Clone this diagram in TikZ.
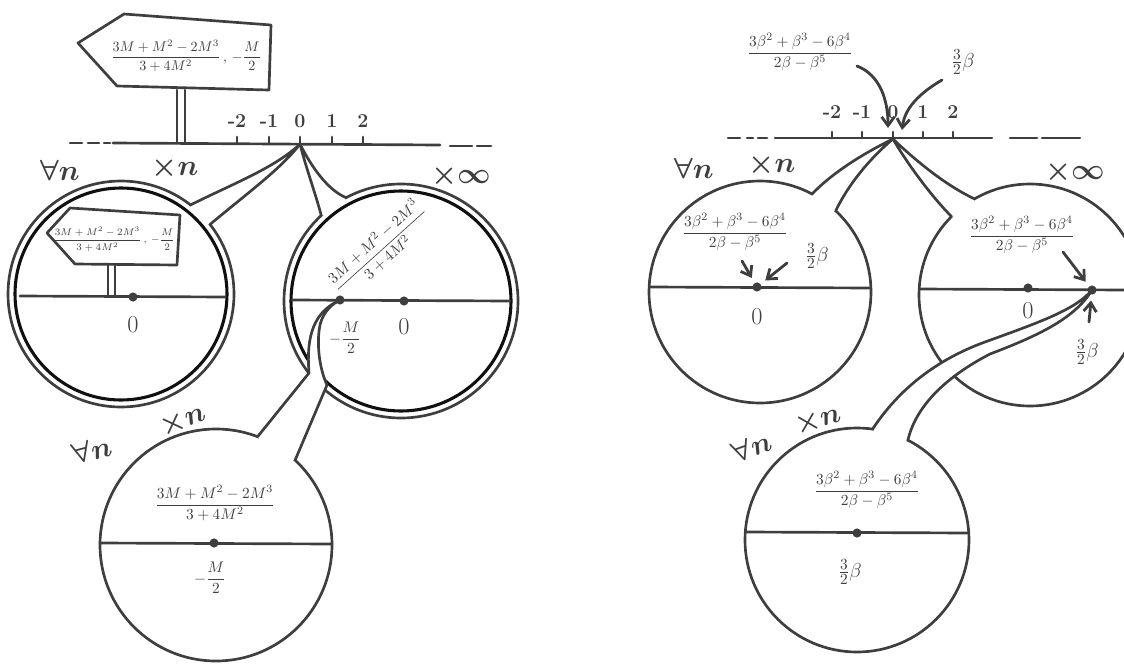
\documentclass[tikz,border=0pt]{standalone}
\usepackage{amsmath}
\usepackage{amssymb}
\usepackage{tikz}
\usetikzlibrary{
  arrows.meta,
  positioning,
  calc
}
\definecolor{InkGray}{RGB}{62,62,62}
\definecolor{RimBlack}{RGB}{16,16,16}
\tikzset{
  inkline/.style={draw=InkGray,line width=1.9pt,line cap=round,line join=round},
  rimline/.style={draw=RimBlack,line width=2.2pt},
  pointdot/.style={circle,fill=InkGray,inner sep=0pt,minimum size=6.5pt},
  ticktext/.style={text=InkGray,font=\fontsize{14}{16}\selectfont\bfseries},
  tagtext/.style={text=InkGray,font=\fontsize{22}{24}\selectfont\boldmath},
  zerotext/.style={text=InkGray,font=\fontsize{17}{19}\selectfont},
  formula/.style={text=InkGray,inner sep=1pt,font=\fontsize{11}{13}\selectfont},
  smallformula/.style={text=InkGray,inner sep=1pt,font=\fontsize{7}{8.5}\selectfont},
  halfbeta/.style={text=InkGray,inner sep=1pt,font=\fontsize{15}{17}\selectfont},
  jabarrow/.style={inkline,line width=2pt,-{Straight Barb[length=2.2mm,width=3.2mm]}}
}
\begin{document}
\begin{tikzpicture}[x=0.025cm,y=-0.025cm]
\useasboundingbox (0,0) rectangle (1124,664);
\clip (0,0) rectangle (1124,664);
% left: number line with signpost
\draw[inkline] (70,143) -- (82,143) (88,143) -- (99,143) (104,143) -- (110,143);
\draw[inkline] (113,143) -- (440,145);
\draw[inkline] (450,146) -- (472,146) (477,146) -- (491,146);
\foreach \x/\t in {237/-2,269/-1,300/0,332/1,363/2}{
  \draw[inkline] (\x,143) -- (\x,137);
  \node[ticktext] at (\x,121) {\t};
}
\coordinate (lzero) at (300,144);
\draw[inkline] (177,90) -- (177,143) (185,90) -- (185,143);
\draw[inkline,fill=white] (78,43) -- (124,14) -- (271,25) -- (269,90) -- (117,86) -- cycle;
\node[formula,font=\fontsize{10}{12}\selectfont] (lsign) at (186,56)
  {$\dfrac{3M+M^2-2M^3}{3+4M^2}\,,\,-\dfrac{M}{2}$};
\node[tagtext] (lall) at (60,170) {$\forall n$};
\node[tagtext] (ltimes) at (175,168) {$\times n$};
\node[tagtext] (linf) at (461,176) {$\times\infty$};
% left: bubbles
\coordinate (lcen) at (121,294);
\coordinate (rcen) at (401,301);
\coordinate (bcen) at (216,545);
\draw[inkline] (lcen) circle (113);
\draw[inkline] (rcen) circle (117);
\draw[inkline] (bcen) circle (116);
\coordinate (lbA) at ($(lcen)+(-52:113)$);
\coordinate (lbB) at ($(lcen)+(-38:113)$);
\fill[white] (lbA) .. controls (230,185) and (275,168) .. (lzero) .. controls (282,168) and (245,195) .. (lbB) -- ($(lcen)+(-45:100)$) -- cycle;
\draw[inkline] (lbA) .. controls (230,185) and (275,168) .. (lzero) .. controls (282,168) and (245,195) .. (lbB);
\coordinate (rbA) at ($(rcen)+(-133:117)$);
\coordinate (rbB) at ($(rcen)+(-118:117)$);
\fill[white] (rbA) .. controls (316,195) and (306,168) .. (lzero) .. controls (312,168) and (328,190) .. (rbB) -- ($(rcen)+(-125:104)$) -- cycle;
\draw[inkline] (rbA) .. controls (316,195) and (306,168) .. (lzero) .. controls (312,168) and (328,190) .. (rbB);
\draw[rimline] (lcen) circle (106);
\draw[rimline] (rcen) circle (110);
\coordinate (mpt) at (340,300);
\coordinate (bbA) at ($(bcen)+(-69:116)$);
\coordinate (bbB) at ($(bcen)+(-47:116)$);
\fill[white] (mpt) .. controls (314,312) and (306,335) .. (309,373) -- (bbA) -- ($(bcen)+(-58:104)$) -- (bbB) -- (327,385) .. controls (320,370) and (316,345) .. (320,325) .. controls (323,312) and (332,304) .. (mpt) -- cycle;
\draw[inkline] (mpt) .. controls (314,312) and (306,335) .. (309,373) -- (bbA);
\draw[inkline] (bbB) -- (327,385) .. controls (320,370) and (316,345) .. (320,325) .. controls (323,312) and (332,304) .. (mpt);
% left: bubble contents
\draw[inkline] (20,296) -- (225,297);
\draw[inkline] (108,265) -- (108,296) (115,265) -- (115,296);
\draw[inkline,fill=white] (47,233) -- (70,208) -- (180,215) -- (177,265) -- (75,264) -- cycle;
\node[smallformula] (ssign) at (114,239) {$\dfrac{3M+M^2-2M^3}{3+4M^2}\,,\,-\dfrac{M}{2}$};
\node[pointdot] (ldot) at (133,297) {};
\node[zerotext, below=2.6mm of ldot] (lnull) {$0$};
\draw[inkline] (292,300) -- (510,301);
\node[pointdot] (mdot) at (mpt) {};
\node[pointdot] (zdot) at (404,301) {};
\node[zerotext, below=2mm of zdot] (znull) {$0$};
\node[formula] (mhalf) at (345,338) {$-\dfrac{M}{2}$};
\node[formula, rotate=42] (rfrac) at (380,249) {$\dfrac{3M+M^2-2M^3}{3+4M^2}$};
\draw[inkline] (100,543) -- (332,544);
\node[pointdot] (bdot) at (214,543) {};
\node[formula] (bfrac) at (215,503) {$\dfrac{3M+M^2-2M^3}{3+4M^2}$};
\node[formula] (bhalf) at (210,578) {$-\dfrac{M}{2}$};
\node[tagtext, rotate=15] (ball) at (92,450) {$\forall n$};
\node[tagtext, rotate=20] (btimes) at (183,421) {$\times n$};
% right: number line
\draw[inkline] (728,138) -- (740,138) (747,138) -- (753,138) (758,138) -- (767,138);
\draw[inkline] (775,138) -- (992,138);
\draw[inkline] (1010,138) -- (1037,138) (1042,138) -- (1080,138);
\foreach \x/\t in {832/-2,862/-1,893/0,923/1,953/2}{
  \draw[inkline] (\x,138) -- (\x,132);
  \node[ticktext] at (\x,112) {\t};
}
\coordinate (rzero) at (893,139);
\node[formula] (tfrac) at (800,52) {$\dfrac{3\beta^2+\beta^3-6\beta^4}{2\beta-\beta^5}$};
\node[halfbeta] (thalf) at (963,62) {$\frac{3}{2}\beta$};
\coordinate (tfa) at (857,66);
\coordinate (tha) at (942,80);
\draw[jabarrow] (tfa) .. controls (880,75) and (888,100) .. (888,128);
\draw[jabarrow] (tha) .. controls (925,90) and (905,105) .. (902,130);
\node[tagtext] (rall) at (694,168) {$\forall n$};
\node[tagtext] (rtimes) at (772,165) {$\times n$};
\node[tagtext] (rinf) at (1075,172) {$\times\infty$};
% right: bubbles
\coordinate (pcen) at (760,292);
\coordinate (scen) at (1030,295);
\coordinate (qcen) at (857,540);
\draw[inkline] (pcen) circle (111);
\draw[inkline] (scen) circle (111);
\draw[inkline] (qcen) circle (112);
\coordinate (pbA) at ($(pcen)+(-62:111)$);
\coordinate (pbB) at ($(pcen)+(-47:111)$);
\fill[white] (pbA) .. controls (830,175) and (860,155) .. (rzero) .. controls (870,158) and (848,185) .. (pbB) -- ($(pcen)+(-55:98)$) -- cycle;
\draw[inkline] (pbA) .. controls (830,175) and (860,155) .. (rzero) .. controls (870,158) and (848,185) .. (pbB);
\coordinate (sbA) at ($(scen)+(-135:111)$);
\coordinate (sbB) at ($(scen)+(-120:111)$);
\fill[white] (sbA) .. controls (930,195) and (905,160) .. (rzero) .. controls (915,160) and (945,185) .. (sbB) -- ($(scen)+(-128:98)$) -- cycle;
\draw[inkline] (sbA) .. controls (930,195) and (905,160) .. (rzero) .. controls (915,160) and (945,185) .. (sbB);
\coordinate (qpt) at (1092,290);
\coordinate (qbA) at ($(qcen)+(-82:112)$);
\coordinate (qbB) at ($(qcen)+(-63:112)$);
\fill[white] (qbA) .. controls (895,395) and (930,362) .. (985,342) .. controls (1040,322) and (1075,310) .. (qpt) .. controls (1075,318) and (1040,335) .. (990,354) .. controls (940,380) and (915,410) .. (qbB) -- ($(qcen)+(-72:100)$) -- cycle;
\draw[inkline] (qbA) .. controls (895,395) and (930,362) .. (985,342) .. controls (1040,322) and (1075,310) .. (qpt) .. controls (1075,318) and (1040,335) .. (990,354) .. controls (940,380) and (915,410) .. (qbB);
% right: bubble contents
\draw[inkline] (650,287) -- (870,288);
\node[pointdot] (pdot) at (757,287) {};
\node[zerotext, below=3mm of pdot] (pnull) {$0$};
\node[formula] (pfrac) at (735,232) {$\dfrac{3\beta^2+\beta^3-6\beta^4}{2\beta-\beta^5}$};
\node[halfbeta] (phalf) at (817,256) {$\frac{3}{2}\beta$};
\coordinate (pfa) at (742,261);
\coordinate (pha) at (787,263);
\draw[jabarrow, shorten >=4pt] (pfa) -- (pdot);
\draw[jabarrow, shorten >=4pt] (pha) -- (pdot);
\draw[inkline] (920,289) -- (1124,290);
\node[pointdot] (sdot) at (1028,288) {};
\node[zerotext, below=1.2mm of sdot] (snull) {$0$};
\node[pointdot] (qdot) at (qpt) {};
\node[formula] (sfrac) at (1022,235) {$\dfrac{3\beta^2+\beta^3-6\beta^4}{2\beta-\beta^5}$};
\node[halfbeta] (shalf) at (1087,352) {$\frac{3}{2}\beta$};
\coordinate (sfa) at (1063,252);
\coordinate (sha) at (1089,322);
\draw[jabarrow, shorten >=4pt] (sfa) -- (qdot);
\draw[jabarrow, shorten >=4pt] (sha) -- (qdot);
\draw[inkline] (747,532) -- (968,533);
\node[pointdot] (qbdot) at (857,533) {};
\node[formula] (qfrac) at (867,490) {$\dfrac{3\beta^2+\beta^3-6\beta^4}{2\beta-\beta^5}$};
\node[halfbeta] (qhalf) at (850,572) {$\frac{3}{2}\beta$};
\node[tagtext, rotate=20] (qall) at (752,447) {$\forall n$};
\node[tagtext, rotate=15] (qtimes) at (818,420) {$\times n$};
\end{tikzpicture}
\end{document}
